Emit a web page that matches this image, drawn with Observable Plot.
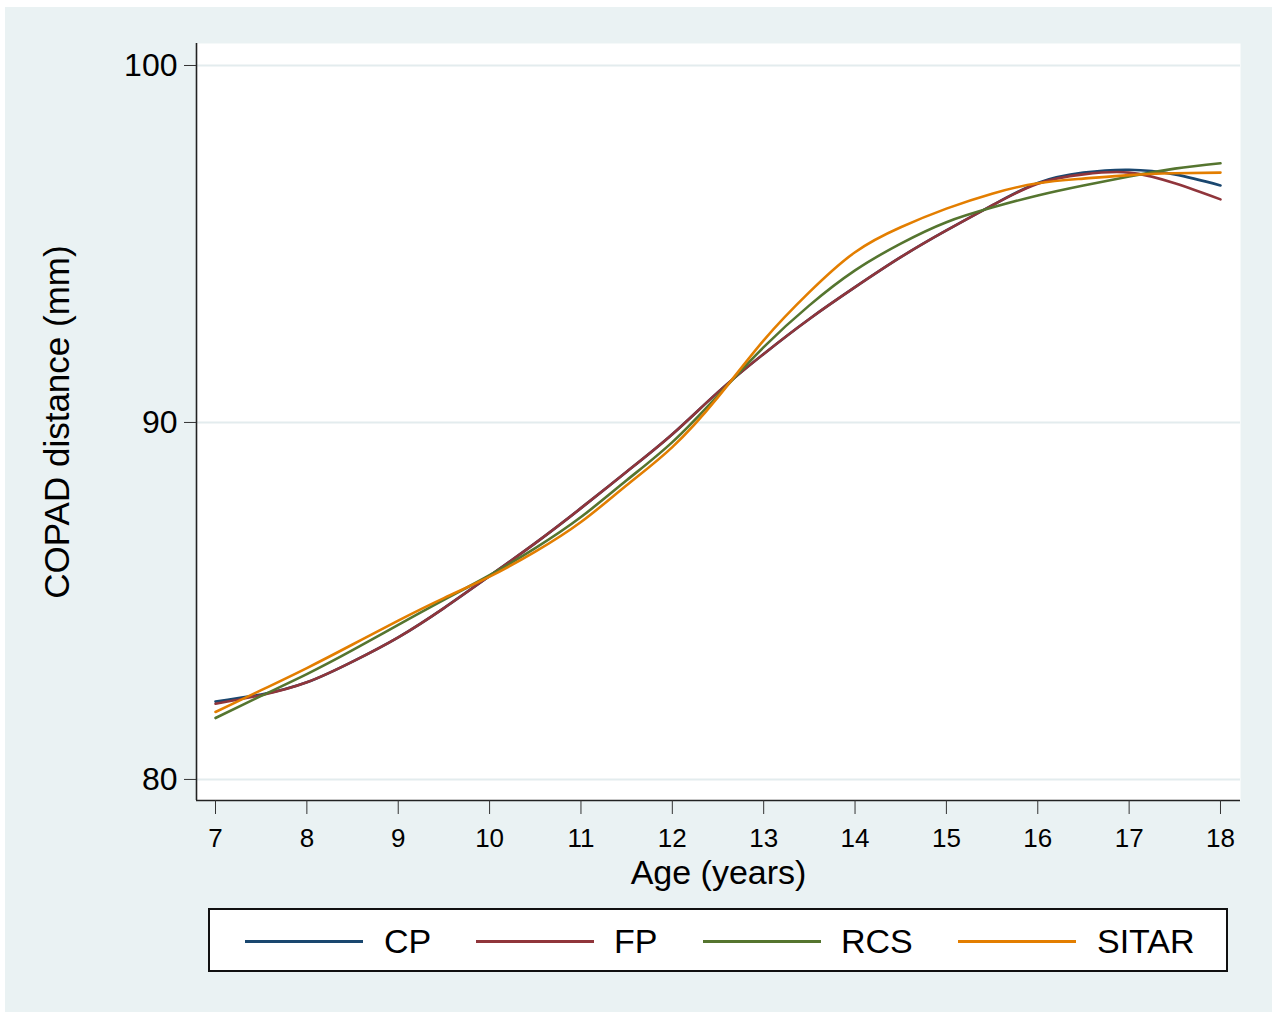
<!DOCTYPE html>
<html>
<head>
<meta charset="utf-8">
<script src="https://cdn.jsdelivr.net/npm/d3@7"></script>
<script src="https://cdn.jsdelivr.net/npm/@observablehq/plot@0.6"></script>
<style>
  html, body { margin: 0; padding: 0; background: #ffffff; }
  body { width: 1277px; height: 1019px; position: relative; overflow: hidden; font-family: "Liberation Sans", Arial, sans-serif; }
  #panel { position: absolute; left: 5px; top: 7px; width: 1267px; height: 1005px; background: #EAF2F3; }
  #chart { position: absolute; left: 0; top: 0; }
  #legend { position: absolute; left: 208px; top: 908px; width: 1020px; height: 64px; box-sizing: border-box; border: 2px solid #111; background: #fff; }
  .sw { position: absolute; height: 3px; }
  .lt { position: absolute; font-size: 34px; line-height: 34px; color: #000; }
</style>
</head>
<body>
<div id="panel"></div>
<div id="chart"></div>
<div id="legend"></div>
<script>
const ages = [7, 7.5, 8, 8.5, 9, 9.5, 10, 10.5, 11, 11.5, 12, 12.5, 13, 13.5, 14, 14.5, 15, 15.5, 16, 16.5, 17, 17.5, 18];
const seriesNames = ["CP", "FP", "RCS", "SITAR"];
const seriesColors = ["#1A476F", "#90353B", "#55752F", "#E37E00"];
const cpValues    = [82.18, 82.38, 82.72, 83.30, 83.98, 84.80, 85.70, 86.62, 87.60, 88.62, 89.67, 90.85, 91.92, 92.90, 93.79, 94.63, 95.38, 96.08, 96.71, 97.00, 97.08, 96.95, 96.64];
const fpValues    = [82.12, 82.36, 82.72, 83.30, 83.98, 84.80, 85.70, 86.62, 87.60, 88.62, 89.67, 90.85, 91.92, 92.90, 93.79, 94.63, 95.38, 96.08, 96.69, 96.95, 97.00, 96.70, 96.25];
const rcsValues   = [81.72, 82.34, 82.95, 83.62, 84.33, 85.03, 85.72, 86.48, 87.35, 88.38, 89.45, 90.76, 92.11, 93.28, 94.26, 95.01, 95.61, 96.02, 96.36, 96.64, 96.89, 97.11, 97.26];
const sitarValues = [81.89, 82.50, 83.12, 83.78, 84.45, 85.08, 85.68, 86.38, 87.21, 88.24, 89.31, 90.71, 92.30, 93.65, 94.77, 95.47, 95.99, 96.41, 96.70, 96.83, 96.93, 96.98, 97.00];
const xTicks = [7, 8, 9, 10, 11, 12, 13, 14, 15, 16, 17, 18];
const yTicks = [80, 90, 100];
const xTitle = "Age (years)";
const yTitle = "COPAD distance (mm)";

const allValues = [cpValues, fpValues, rcsValues, sitarValues];
const data = [];
seriesNames.forEach((s, i) => ages.forEach((a, j) => data.push({series: s, age: a, value: allValues[i][j]})));

const xDomain = [6.792, 18.219];
const yDomain = [79.41, 100.616];
const font = '"Liberation Sans", Arial, sans-serif';

const chart = Plot.plot({
  width: 1277,
  height: 900,
  marginLeft: 196,
  marginRight: 37,
  marginTop: 43,
  marginBottom: 100,
  style: {background: "transparent", fontFamily: font, color: "#000", overflow: "visible"},
  x: {domain: xDomain},
  y: {domain: yDomain},
  color: {domain: seriesNames, range: seriesColors},
  marks: [
    Plot.frame({fill: "#ffffff", stroke: null}),
    Plot.ruleY(yTicks, {stroke: "#E3ECEE", strokeWidth: 2}),
    Plot.line(data, {x: "age", y: "value", z: "series", stroke: "series", curve: "natural", strokeWidth: 2.6}),
    Plot.ruleX([xDomain[0]], {stroke: "#222", strokeWidth: 1.6}),
    Plot.ruleY([yDomain[0]], {stroke: "#222", strokeWidth: 1.6}),
    Plot.axisY({ticks: yTicks, tickSize: 12, tickPadding: 7, fontSize: 32, label: null, stroke: "#333", tickFormat: d => String(d)}),
    Plot.axisX({ticks: xTicks, tickSize: 14, tickPadding: 14, fontSize: 26, label: null, stroke: "#333", tickFormat: d => String(d)}),
    Plot.text([xTitle], {frameAnchor: "bottom", dy: 73, lineAnchor: "middle", textAnchor: "middle", fontSize: 34, fill: "#000", text: d => d}),
    Plot.text([yTitle], {frameAnchor: "left", dx: -139, rotate: -90, lineAnchor: "middle", textAnchor: "middle", fontSize: 35, fill: "#000", text: d => d})
  ]
});
document.getElementById("chart").appendChild(chart);

// Legend
const legend = document.getElementById("legend");
const swLeft = [245, 476, 703, 958];
const txLeft = [384, 614, 841, 1097];
seriesNames.forEach((s, i) => {
  const sw = document.createElement("div");
  sw.className = "sw";
  sw.style.left = (swLeft[i] - 210) + "px";
  sw.style.width = "118px";
  sw.style.top = (941 - 910 - 1) + "px";
  sw.style.background = seriesColors[i];
  legend.appendChild(sw);
  const t = document.createElement("div");
  t.className = "lt";
  t.style.left = (txLeft[i] - 210) + "px";
  t.style.top = (941 - 910 - 17) + "px";
  t.textContent = s;
  legend.appendChild(t);
});
</script>
</body>
</html>
